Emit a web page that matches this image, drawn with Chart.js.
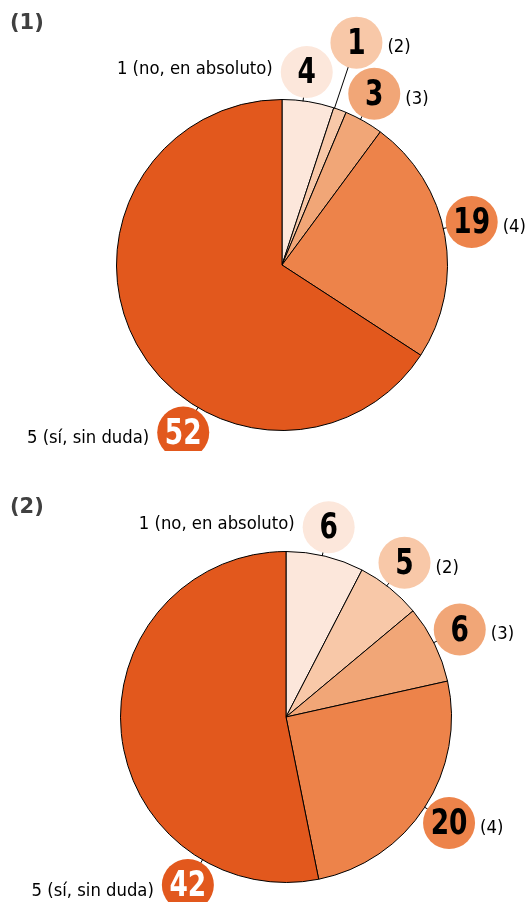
<!DOCTYPE html>
<html>
<head>
<meta charset="utf-8">
<script src="https://cdn.jsdelivr.net/npm/chart.js@4/dist/chart.umd.min.js"></script>
<style>
  html, body { margin: 0; padding: 0; background: #fff; width: 529px; height: 902px; overflow: hidden; }
  .panel { position: absolute; left: 0; width: 529px; height: 451px; }
  .panel canvas { position: absolute; left: 0; top: 0; }
  .ptitle { position: absolute; left: 10px; font-family: "DejaVu Sans", sans-serif; font-weight: bold; font-size: 21px; color: #404040; line-height: 1; }
</style>
</head>
<body>
<div class="panel" style="top:0px">
  <canvas id="c1" width="529" height="451"></canvas>
  <div class="ptitle" id="t1" style="top:12px"></div>
</div>
<div class="panel" style="top:451px">
  <canvas id="c2" width="529" height="451"></canvas>
  <div class="ptitle" id="t2" style="top:45px"></div>
</div>
<script>
// ---- data ----
const categories = ['1 (no, en absoluto)', '(2)', '(3)', '(4)', '5 (sí, sin duda)'];
const values1 = [4, 1, 3, 19, 52];
const values2 = [6, 5, 6, 20, 42];
const panelTitles = ['(1)', '(2)'];

// ---- styling ----
const sliceColors = ['#FCE7DB', '#F8C8A8', '#F1A677', '#ED834A', '#E2581D'];
const numberColors = ['#000', '#000', '#000', '#000', '#fff'];
const labelSide = ['left', 'right', 'right', 'right', 'left'];
const FONT_NARROW = '"Liberation Sans Narrow", "DejaVu Sans Condensed", "Liberation Sans", sans-serif';

document.getElementById('t1').textContent = panelTitles[0];
document.getElementById('t2').textContent = panelTitles[1];

const bubblePlugin = {
  id: 'bubbleLabels',
  afterDatasetsDraw(chart, args, opts) {
    const ctx = chart.ctx;
    const meta = chart.getDatasetMeta(0);
    const ds = chart.data.datasets[0];
    const BR = 26;
    meta.data.forEach((arc, i) => {
      const p = arc.getProps(['x', 'y', 'startAngle', 'endAngle', 'outerRadius'], true);
      const adj = (opts.adjust && opts.adjust[i]) || {};
      const ang = (p.startAngle + p.endAngle) / 2 + (adj.dAngle || 0) * Math.PI / 180;
      const dist = p.outerRadius + (adj.dist != null ? adj.dist : 29);
      const bx = p.x + Math.cos(ang) * dist;
      const by = p.y + Math.sin(ang) * dist;
      // leader
      ctx.save();
      ctx.strokeStyle = '#000';
      ctx.lineWidth = 1;
      ctx.beginPath();
      ctx.moveTo(p.x + Math.cos(ang) * (p.outerRadius - 0.5), p.y + Math.sin(ang) * (p.outerRadius - 0.5));
      ctx.lineTo(p.x + Math.cos(ang) * (dist - BR + 1), p.y + Math.sin(ang) * (dist - BR + 1));
      ctx.stroke();
      // bubble
      ctx.fillStyle = sliceColors[i];
      ctx.beginPath();
      ctx.arc(bx, by, BR, 0, Math.PI * 2);
      ctx.fill();
      // number (slightly condensed)
      ctx.save();
      ctx.translate(bx, by + 2);
      ctx.scale(0.84, 1);
      ctx.fillStyle = numberColors[i];
      ctx.font = 'bold 35px ' + FONT_NARROW;
      ctx.textAlign = 'center';
      ctx.textBaseline = 'middle';
      ctx.fillText(String(ds.data[i]), 0, 0);
      ctx.restore();
      // category label
      ctx.fillStyle = '#000';
      ctx.font = '18.3px ' + FONT_NARROW;
      ctx.textBaseline = 'middle';
      if (labelSide[i] === 'left') {
        ctx.textAlign = 'right';
        ctx.fillText(chart.data.labels[i], bx - BR - 8, by + (i === 0 ? -3 : 6));
      } else {
        ctx.textAlign = 'left';
        ctx.fillText(chart.data.labels[i], bx + BR + 5, by + 5);
      }
      ctx.restore();
    });
  }
};

function makePie(id, values, padding, adjust) {
  return new Chart(document.getElementById(id), {
    type: 'pie',
    data: {
      labels: categories,
      datasets: [{
        data: values,
        backgroundColor: sliceColors,
        borderColor: '#000',
        borderWidth: 1
      }]
    },
    options: {
      responsive: false,
      devicePixelRatio: 1,
      animation: false,
      layout: { padding: padding },
      plugins: {
        legend: { display: false },
        tooltip: { enabled: false },
        bubbleLabels: { adjust: adjust }
      }
    },
    plugins: [bubblePlugin]
  });
}

makePie('c1', values1, { left: 116, right: 81, top: 99, bottom: 20 },
  { 0: { dAngle: -1.8 }, 1: { dAngle: -2, dist: 69 }, 2: { dAngle: -1.3 }, 3: { dAngle: -2.5 }, 4: { dAngle: -31 } });
makePie('c2', values2, { left: 120, right: 77, top: 100, bottom: 19 },
  { 0: { dAngle: -1 }, 1: { dAngle: -1.2 }, 2: { dAngle: -0.5 }, 4: { dAngle: -54 } });
</script>
</body>
</html>
